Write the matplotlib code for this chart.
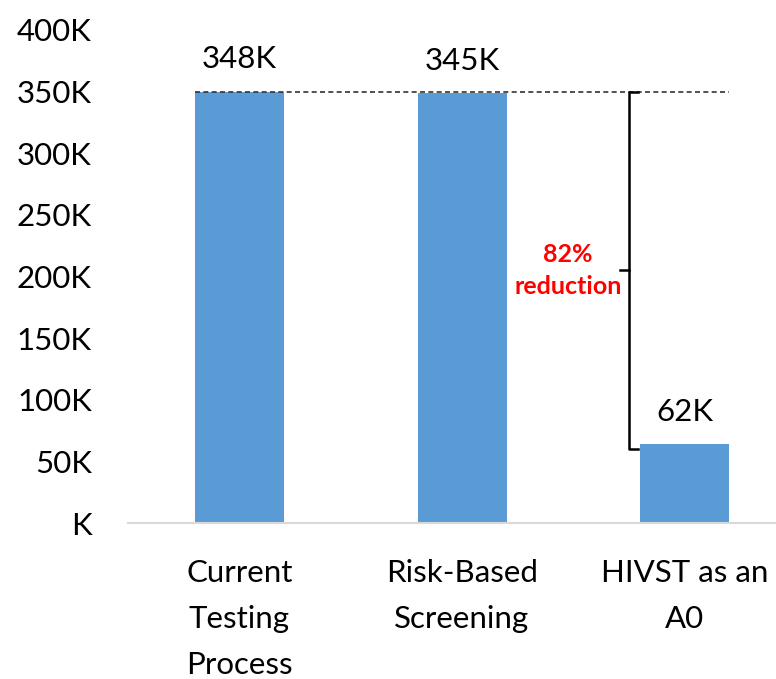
import matplotlib.pyplot as plt
from matplotlib.ticker import FuncFormatter

# data (thousands)
categories = ['Current\nTesting\nProcess', 'Risk-Based\nScreening', 'HIVST as an\nA0']
values = [350, 349, 64]
value_labels = ['348K', '345K', '62K']
bracket_top = 350
bracket_bottom = 60
reduction_text = '82%\nreduction'

plt.rcParams['font.family'] = ['Lato', 'DejaVu Sans']

fig = plt.figure(figsize=(7.76, 6.79), dpi=100)
ax = fig.add_axes([0.165, 0.2297, 0.835, 0.7263])

x = range(len(categories))
bars = ax.bar(x, values, width=0.40, color='#5B9BD5', zorder=2)

# value labels above bars
for b, lab in zip(bars, value_labels):
    ax.annotate(lab, (b.get_x() + b.get_width() / 2, b.get_height()),
                xytext=(0, 13), textcoords='offset points',
                ha='center', va='bottom', fontsize=22.5)

# dashed reference line from first bar to last bar
ax.plot([bars[0].get_x(), bars[-1].get_x() + bars[-1].get_width()],
        [bracket_top, bracket_top], ls=(0, (3, 2)), color='#333333', lw=1.2, zorder=3)

# bracket
bx = 1.75
hook = 0.04
mid = (bracket_top + bracket_bottom) / 2
ax.plot([bx + hook, bx, bx, bx + hook], [bracket_top, bracket_top, bracket_bottom, bracket_bottom],
        color='black', lw=1.8, zorder=3)
ax.plot([bx - hook, bx], [mid, mid], color='black', lw=1.8, zorder=3)
ax.text(bx - 0.275, mid, reduction_text, color='#FF0000', fontsize=18, fontweight='bold',
        ha='center', va='center', linespacing=1.45)

ax.set_ylim(0, 400)
ax.set_xlim(-0.5, 2.41)
ax.set_yticks(range(0, 401, 50))
ax.yaxis.set_major_formatter(FuncFormatter(lambda v, p: 'K' if v == 0 else f'{int(v)}K'))
ax.set_xticks(list(x))
ax.set_xticklabels(categories, linespacing=1.77)
ax.tick_params(axis='both', length=0, labelsize=22.5)
ax.tick_params(axis='y', pad=26)
ax.tick_params(axis='x', pad=26)

for s in ['top', 'right', 'left']:
    ax.spines[s].set_visible(False)
ax.spines['bottom'].set_color('#d9d9d9')
ax.spines['bottom'].set_linewidth(1.5)

fig.savefig('out.png', dpi=100)
